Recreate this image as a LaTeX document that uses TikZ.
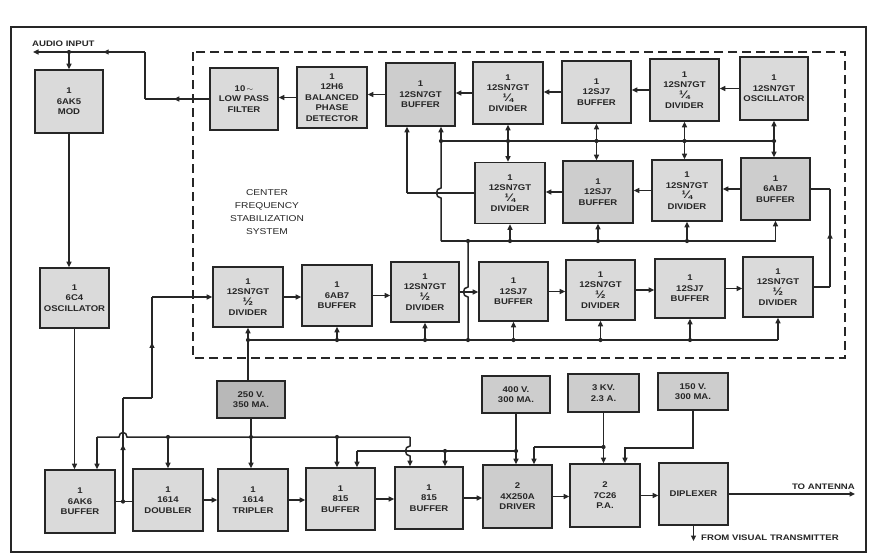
\documentclass[tikz,border=0pt]{standalone}
\usepackage{fontspec}
\setmainfont{Liberation Sans}
\newfontfamily\lblfont{Liberation Sans}[FakeStretch=1.2]
\newfontfamily\boxfont{Liberation Sans}[FakeStretch=1.15]
\newcommand\qtr{{\fontsize{11}{10.5}\selectfont ¼}}
\newcommand\hlf{{\fontsize{11}{10.5}\selectfont ½}}
\usetikzlibrary{arrows.meta,decorations.markings}
\definecolor{ink}{HTML}{262626}
\definecolor{boxfill}{HTML}{DADADA}
\definecolor{boxdark}{HTML}{CDCDCD}
\definecolor{boxhatch}{HTML}{B8B8B8}
\begin{document}
\begin{tikzpicture}[x=1pt,y=-1pt,
  blk/.style={draw=ink, line width=1.6pt, fill=boxfill, align=center, inner sep=0pt,
    minimum width=69pt, minimum height=61pt,
    font=\boxfont\bfseries\fontsize{8.3}{10.5}\selectfont, text=ink},
  pwr/.style={blk, minimum width=69pt, minimum height=37pt, fill=boxdark},
  darkbox/.style={fill=boxdark},
  wire/.style={draw=ink, line width=1.5pt},
  arr/.style={-{Triangle[length=5.5pt,width=5pt]}},
  midarr/.style={postaction={decorate}, decoration={markings,
    mark=at position 0.55 with {\arrow{Triangle[length=5.5pt,width=5pt]}}}},
  jdot/.style={circle, fill=ink, inner sep=0pt, minimum size=4.2pt},
  lbl/.style={font=\lblfont\bfseries\fontsize{8}{9}\selectfont, text=ink, inner sep=0pt}
]
\useasboundingbox (0,0) rectangle (870,558);
\fill[white] (0,0) rectangle (870,558);

% frame and dashed system boundary
\draw[ink, line width=2.6pt] (11,27) rectangle (866,552);
\draw[ink, line width=1.2pt, dash pattern=on 9pt off 5pt] (193,52) rectangle (845,358);

% ---------- stabilization system, row 1
\node[blk, minimum width=68pt, minimum height=62pt] (lpf) at (244,99) {10\,$\sim$\\LOW PASS\\FILTER};
\node[blk, minimum width=70pt] (det) at (332,97.5) {1\\12H6\\BALANCED\\PHASE\\DETECTOR};
\node[blk, darkbox, minimum height=63pt] (buf1) at (420.5,94.5) {1\\12SN7GT\\BUFFER};
\node[blk, minimum width=70pt, minimum height=62pt] (div1) at (508,93) {1\\12SN7GT\\\qtr\\DIVIDER};
\node[blk, minimum height=62pt] (sj1) at (596.5,92) {1\\12SJ7\\BUFFER};
\node[blk, minimum height=62pt] (div2) at (684.5,90) {1\\12SN7GT\\\qtr\\DIVIDER};
\node[blk, minimum width=68pt, minimum height=63pt] (osc) at (774,88.5) {1\\12SN7GT\\OSCILLATOR};

% row 2
\node[blk, minimum width=70pt] (div3) at (510,193) {1\\12SN7GT\\\qtr\\DIVIDER};
\node[blk, darkbox, minimum width=70pt, minimum height=62pt] (sj2) at (598,192) {1\\12SJ7\\BUFFER};
\node[blk, minimum width=70pt] (div4) at (687,190.5) {1\\12SN7GT\\\qtr\\DIVIDER};
\node[blk, darkbox, minimum height=62pt] (ab1) at (775.5,189) {1\\6AB7\\BUFFER};

% row 3
\node[blk, minimum width=70pt, minimum height=60pt] (hd1) at (248,297) {1\\12SN7GT\\\hlf\\DIVIDER};
\node[blk, minimum width=70pt] (ab2) at (337,295.5) {1\\6AB7\\BUFFER};
\node[blk, minimum width=68pt, minimum height=60pt] (hd2) at (425,292) {1\\12SN7GT\\\hlf\\DIVIDER};
\node[blk, minimum height=59pt] (sj3) at (513.5,291.5) {1\\12SJ7\\BUFFER};
\node[blk, minimum height=60pt] (hd3) at (600.5,290) {1\\12SN7GT\\\hlf\\DIVIDER};
\node[blk, minimum width=70pt, minimum height=59pt] (sj4) at (690,288.5) {1\\12SJ7\\BUFFER};
\node[blk, minimum width=70pt, minimum height=60pt] (hd4) at (778,287) {1\\12SN7GT\\\hlf\\DIVIDER};

% left column
\node[blk, minimum width=68pt, minimum height=63pt] (mod) at (69,101.5) {1\\6AK5\\MOD};
\node[blk, minimum height=60pt] (c4) at (74.5,298) {1\\6C4\\OSCILLATOR};

% power supplies
\node[pwr, fill=boxhatch, minimum width=68pt] (p250) at (251,399.5) {250 V.\\350 MA.};
\node[pwr, minimum width=68pt] (p400) at (516,394.5) {400 V.\\300 MA.};
\node[pwr, minimum width=71pt, minimum height=38pt] (p3k) at (603.5,393) {3 KV.\\2.3 A.};
\node[pwr, minimum width=70pt] (p150) at (693,391.5) {150 V.\\300 MA.};

% bottom chain
\node[blk, minimum width=70pt, minimum height=63pt] (ak6) at (80,501.5) {1\\6AK6\\BUFFER};
\node[blk, minimum width=70pt, minimum height=62pt] (dbl) at (168,500) {1\\1614\\DOUBLER};
\node[blk, minimum width=70pt, minimum height=62pt] (tri) at (253,500) {1\\1614\\TRIPLER};
\node[blk, minimum height=62pt] (b815a) at (340.5,499) {1\\815\\BUFFER};
\node[blk, minimum width=68pt, minimum height=62pt] (b815b) at (429,498) {1\\815\\BUFFER};
\node[blk, darkbox, minimum height=63pt] (drv) at (517.5,496.5) {2\\4X250A\\DRIVER};
\node[blk, minimum width=70pt, minimum height=63pt] (pa) at (605,495.5) {2\\7C26\\P.A.};
\node[blk, minimum height=62pt] (dip) at (693.5,494) {DIPLEXER};

% labels
\node[lbl, anchor=west] (audlbl) at (32,44) {AUDIO INPUT};
\node[lbl, anchor=base east] (antlbl) at (855,489) {TO ANTENNA};
\node[lbl, anchor=west] (vislbl) at (701,538) {FROM VISUAL TRANSMITTER};
\node[font=\lblfont\fontsize{8.5}{13}\selectfont, align=center, text=ink, inner sep=0pt] (cfs) at (267,212.5)
  {CENTER\\FREQUENCY\\STABILIZATION\\SYSTEM};

% ---------- helper coordinates
\coordinate (aud) at (33,52);
\coordinate (kink) at (145,52);
\coordinate (modj) at (mod.north |- aud);
\coordinate (y141) at (0,141);
\coordinate (y241) at (0,241);
\coordinate (y340) at (0,340);
\coordinate (y437) at (0,437);
\coordinate (y447) at (0,447);
\coordinate (y448) at (0,448);
\coordinate (y451) at (0,451);
\coordinate (xv) at (441,0);
\coordinate (xl) at (407,0);
\coordinate (xm) at (468,0);
\coordinate (xr) at (830,0);
\coordinate (k2) at (152,398);
\coordinate (j1x) at (123,0);
\coordinate (j1) at (ak6.east -| j1x);
\coordinate (bL) at (97,437);
\coordinate (bR) at (410,437);
\coordinate (x337) at (337,0);
\coordinate (x357) at (357,0);
\coordinate (x445) at (445,0);
\coordinate (x534) at (534,0);
\coordinate (x625) at (625,0);
\coordinate (ant) at (855,0);
\coordinate (vis) at (0,541);

% ---------- row 1 signal chain
\draw[wire,arr] (osc.west) -- (osc.west -| div2.east);
\draw[wire,arr] (div2.west) -- (div2.west -| sj1.east);
\draw[wire,arr] (sj1.west) -- (sj1.west -| div1.east);
\draw[wire,arr] (div1.west) -- (div1.west -| buf1.east);
\draw[wire,arr] (buf1.west) -- (buf1.west -| det.east);
\draw[wire,arr] (det.west) -- (det.west -| lpf.east);

% LPF to audio input and modulator
\draw[wire,midarr] (lpf.west) -- (lpf.west -| kink);
\draw[wire] (lpf.west -| kink) -- (kink);
\draw[wire,midarr] (kink) -- (modj);
\draw[wire,arr] (modj) -- (aud);
\draw[wire,arr] (modj) -- (mod.north);
\node[jdot] at (modj) {};

\draw[wire,arr] (mod.south) -- (mod.south |- c4.north);
\draw[wire,arr] (c4.south) -- (c4.south |- ak6.north);

% ---------- bus between rows 1 and 2
\draw[wire] (xv |- y141) -- (osc.south |- y141);
\foreach \u/\d in {div1/div3, sj1/sj2, div2/div4, osc/ab1}{
  \draw[wire,arr] (\u.south |- y141) -- (\u.south);
  \draw[wire,arr] (\u.south |- y141) -- (\u.south |- \d.north);
  \node[jdot] at (\u.south |- y141) {};
}
\node[jdot] at (xv |- y141) {};
\draw[wire,arr] (xv |- y141) -- (xv |- buf1.south);
\draw[wire] (xv |- y141) -- (441,188) .. controls (435,188) and (435,198) .. (441,198) -- (xv |- y241);

% row 2 signal chain
\draw[wire,arr] (ab1.west) -- (ab1.west -| div4.east);
\draw[wire,arr] (div4.west) -- (div4.west -| sj2.east);
\draw[wire,arr] (sj2.west) -- (sj2.west -| div3.east);
\draw[wire] (div3.west) -- (div3.west -| xl);
\draw[wire,arr] (div3.west -| xl) -- (xl |- buf1.south);

% bus between rows 2 and 3
\draw[wire] (xv |- y241) -- (ab1.south |- y241);
\foreach \b in {div3, sj2, div4, ab1}{
  \draw[wire,arr] (\b.south |- y241) -- (\b.south);
}
\foreach \b in {div3, sj2, div4}{ \node[jdot] at (\b.south |- y241) {}; }
\node[jdot] at (xm |- y241) {};
\draw[wire] (xm |- y241) -- (468,287) .. controls (462,287) and (462,297) .. (468,297) -- (xm |- y340);
\node[jdot] at (xm |- y340) {};

% row 3 signal chain
\draw[wire,arr] (hd1.east) -- (hd1.east -| ab2.west);
\draw[wire,arr] (ab2.east) -- (ab2.east -| hd2.west);
\draw[wire,arr] (hd2.east) -- (hd2.east -| sj3.west);
\draw[wire,arr] (sj3.east) -- (sj3.east -| hd3.west);
\draw[wire,arr] (hd3.east) -- (hd3.east -| sj4.west);
\draw[wire,arr] (sj4.east) -- (sj4.east -| hd4.west);
\draw[wire] (hd4.east) -- (hd4.east -| xr);
\draw[wire,midarr] (hd4.east -| xr) -- (xr |- ab1.east);
\draw[wire] (xr |- ab1.east) -- (ab1.east);

% row 3 bus and 250 V feed
\draw[wire] (hd1.south |- y340) -- (hd4.south |- y340);
\foreach \b in {hd1, ab2, hd2, sj3, hd3, sj4, hd4}{
  \draw[wire,arr] (\b.south |- y340) -- (\b.south);
}
\foreach \b in {hd1, ab2, hd2, sj3, hd3, sj4}{ \node[jdot] at (\b.south |- y340) {}; }
\draw[wire] (hd1.south |- p250.north) -- (hd1.south |- y340);

% oscillator feed from 6AK6 buffer
\draw[wire] (ak6.east) -- (ak6.east -| dbl.west);
\node[jdot] at (j1) {};
\draw[wire,midarr] (j1) -- (j1 |- k2);
\draw[wire] (j1 |- k2) -- (k2);
\draw[wire,midarr] (k2) -- (k2 |- hd1.west);
\draw[wire,arr] (k2 |- hd1.west) -- (hd1.west);

% bottom chain
\draw[wire,arr] (dbl.east) -- (dbl.east -| tri.west);
\draw[wire,arr] (tri.east) -- (tri.east -| b815a.west);
\draw[wire,arr] (b815a.east) -- (b815a.east -| b815b.west);
\draw[wire,arr] (b815b.east) -- (b815b.east -| drv.west);
\draw[wire,arr] (drv.east) -- (drv.east -| pa.west);
\draw[wire,arr] (pa.east) -- (pa.east -| dip.west);
\draw[wire,arr] (dip.east) -- (dip.east -| ant);
\draw[wire,arr] (dip.south) -- (dip.south |- vis);

% 250 V bus
\draw[wire] (bL) -- (119,437) .. controls (119,431) and (127,431) .. (127,437) -- (bR);
\draw[wire,arr] (bL) -- (bL |- ak6.north);
\draw[wire,arr] (dbl.north |- y437) -- (dbl.north);
\node[jdot] at (dbl.north |- y437) {};
\draw[wire,arr] (p250.south) -- (p250.south |- tri.north);
\node[jdot] at (p250.south |- y437) {};
\draw[wire,arr] (x337 |- y437) -- (x337 |- b815a.north);
\node[jdot] at (x337 |- y437) {};
\draw[wire,arr] (bR) -- (410,446) .. controls (404,446) and (404,456) .. (410,456) -- (bR |- b815b.north);

% 400 V bus
\draw[wire] (x357 |- y451) -- (p400.south |- y451);
\draw[wire,arr] (x357 |- y451) -- (x357 |- b815a.north);
\draw[wire,arr] (x445 |- y451) -- (x445 |- b815b.north);
\node[jdot] at (x445 |- y451) {};
\draw[wire,arr] (p400.south) -- (p400.south |- drv.north);
\node[jdot] at (p400.south |- y451) {};

% 3 kV bus
\draw[wire] (x534 |- y447) -- (p3k.south |- y447);
\draw[wire,arr] (x534 |- y447) -- (x534 |- drv.north);
\draw[wire,arr] (p3k.south) -- (p3k.south |- pa.north);
\node[jdot] at (p3k.south |- y447) {};

% 150 V feed
\draw[wire,arr] (p150.south) -- (p150.south |- y448) -- (x625 |- y448) -- (x625 |- pa.north);
\end{tikzpicture}
\end{document}
